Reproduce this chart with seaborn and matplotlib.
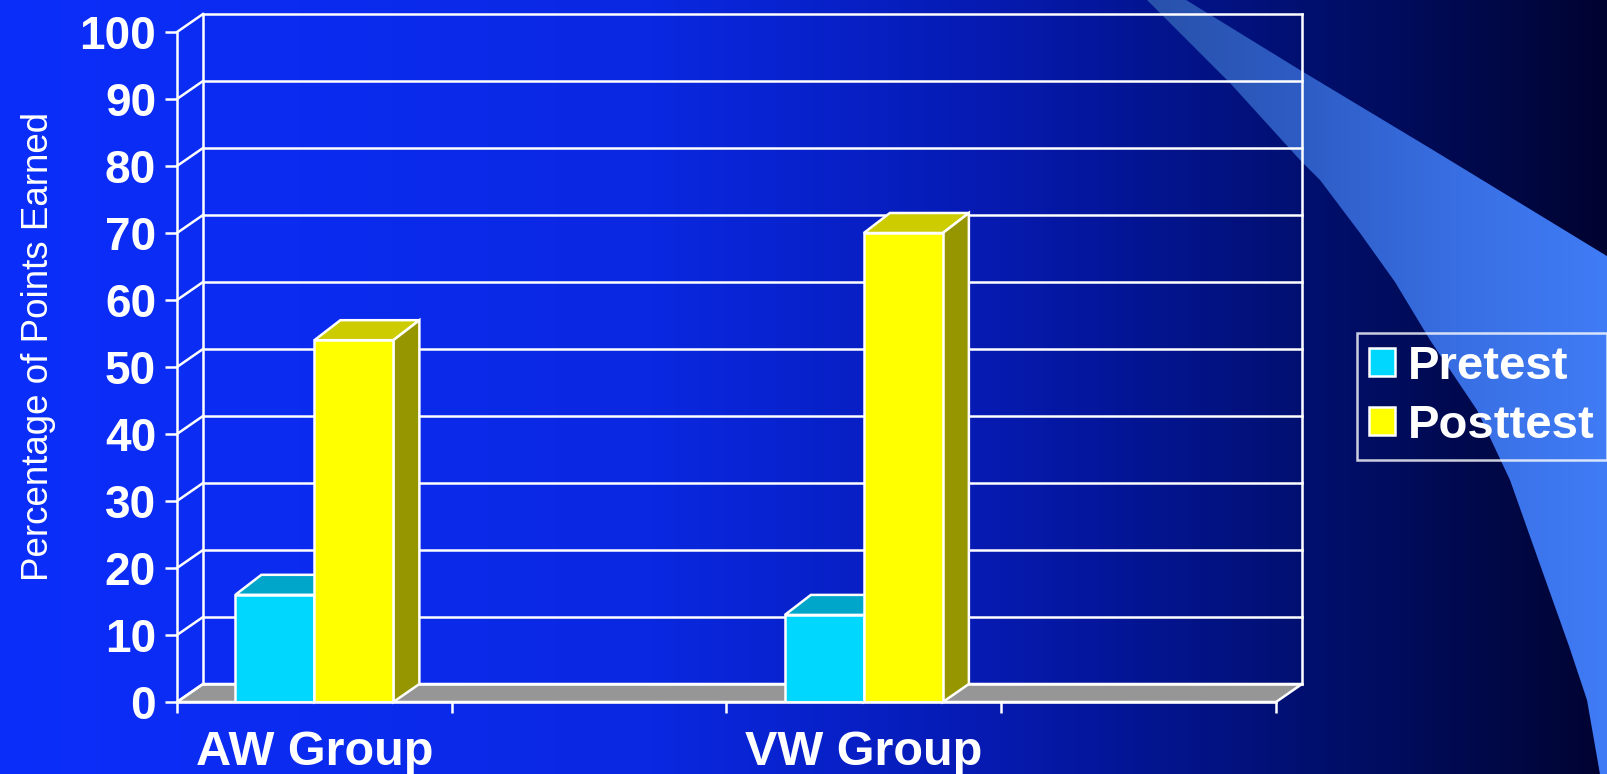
import numpy as np
import pandas as pd
import matplotlib
matplotlib.use("Agg")
import matplotlib.pyplot as plt
from matplotlib.patches import Polygon, Patch
import seaborn as sns

# ---- data -------------------------------------------------------------
groups = ["AW Group", "AW Group", "VW Group", "VW Group"]
tests = ["Pretest", "Posttest", "Pretest", "Posttest"]
scores = [16, 54, 13, 70]
category_slots = ["AW Group", " ", "VW Group", "  "]
series = ["Pretest", "Posttest"]
y_ticks = list(range(0, 101, 10))

# ---- styling ----------------------------------------------------------
front_colors = {"Pretest": "#00D7FF", "Posttest": "#FFFF00"}
top_colors = {"Pretest": "#00A6CA", "Posttest": "#CCCC00"}
side_colors = {"Pretest": "#0089A8", "Posttest": "#969600"}
floor_color = "#969696"
line_w = 1.8

plt.rcParams["font.family"] = ["Liberation Sans", "DejaVu Sans"]

W, H, DPI = 1608, 774, 100
fig = plt.figure(figsize=(W / DPI, H / DPI), dpi=DPI)

# ---- slide background: horizontal blue gradient + light swoosh --------
bg = fig.add_axes([0, 0, 1, 1], zorder=-10)
stops_x = [0, 300, 650, 800, 1000, 1100, 1200, 1300, 1400, 1500, 1608]
stops_rgb = [(12, 46, 250), (11, 43, 240), (10, 40, 225), (8, 34, 205),
             (6, 26, 175), (4, 22, 155), (3, 19, 134), (1, 16, 112),
             (0, 12, 92), (0, 8, 70), (0, 3, 48)]
xs = np.arange(W) + 0.5
grad = np.stack([np.interp(xs, stops_x, [c[i] for c in stops_rgb])
                 for i in range(3)], axis=-1) / 255.0
bg.imshow(np.repeat(grad[None, :, :], 2, axis=0), extent=(0, W, H, 0),
          aspect="auto", interpolation="bilinear")

swoosh_pts = [(1142, -5), (1230, 83), (1300, 160), (1320, 180), (1360, 233),
              (1395, 282), (1430, 340), (1477, 410), (1510, 480), (1538, 559),
              (1569, 646), (1587, 700), (1601, 780), (1620, 780), (1620, 264),
              (1433, 150), (1300, 70), (1178, -5)]
swoosh = Polygon(swoosh_pts, closed=True, facecolor="none", edgecolor="none",
                 transform=bg.transData)
bg.add_patch(swoosh)
band_x = [1100, 1300, 1450, 1608]
band_rgb = [(38, 78, 162), (46, 92, 196), (56, 110, 226), (64, 124, 246)]
bxs = np.linspace(1100, W, 300)
band = np.stack([np.interp(bxs, band_x, [c[i] for c in band_rgb])
                 for i in range(3)], axis=-1) / 255.0
im = bg.imshow(np.repeat(band[None, :, :], 2, axis=0),
               extent=(1100, W, H, 0), aspect="auto", interpolation="bilinear")
im.set_clip_path(swoosh)
bg.set_xlim(0, W)
bg.set_ylim(H, 0)
bg.axis("off")

# ---- chart ------------------------------------------------------------
ax = fig.add_axes([177 / W, 1 - 702 / H, 1099 / W, 670 / H])
ax.set_facecolor("none")

df = pd.DataFrame({"group": groups, "test": tests, "score": scores})
sns.barplot(data=df, x="group", y="score", hue="test", order=category_slots,
            hue_order=series, palette=front_colors, width=0.575,
            saturation=1, errorbar=None, edgecolor="white",
            linewidth=line_w, legend=False, ax=ax, zorder=3)

ax.set_xlim(-0.5, len(category_slots) - 0.5)
ax.set_ylim(0, 100)

# depth of the pseudo-3D box, converted from pixels to data units
bbox = ax.get_window_extent()
x_span = len(category_slots)
dx = 26 * x_span / bbox.width
dy_wall = 18 * 100 / bbox.height
dy_top = 20 * 100 / bbox.height
x_lo, x_hi = -0.5, x_span - 0.5

# floor
ax.add_patch(Polygon([(x_lo, 0), (x_hi, 0), (x_hi + dx, dy_wall), (x_lo + dx, dy_wall)],
                     closed=True, facecolor=floor_color, edgecolor="white",
                     linewidth=line_w, zorder=1.2, clip_on=False))

# back wall gridlines and side-wall slants
for v in y_ticks:
    ax.plot([x_lo + dx, x_hi + dx], [v + dy_wall, v + dy_wall], color="white",
            lw=line_w, zorder=1.5, clip_on=False, solid_capstyle="projecting")
    ax.plot([x_lo, x_lo + dx], [v, v + dy_wall], color="white",
            lw=line_w, zorder=1.5, clip_on=False)
for xb in (x_lo + dx, x_hi + dx):
    ax.plot([xb, xb], [dy_wall, 100 + dy_wall], color="white", lw=line_w,
            zorder=1.5, clip_on=False)

# top and side faces of each bar
for name, cont in zip(series, ax.containers):
    for p in cont.patches:
        h = p.get_height()
        if not np.isfinite(h):
            continue
        x0, w = p.get_x(), p.get_width()
        ax.add_patch(Polygon([(x0, h), (x0 + w, h), (x0 + w + dx, h + dy_top),
                              (x0 + dx, h + dy_top)], closed=True,
                             facecolor=top_colors[name], edgecolor="white",
                             linewidth=line_w, zorder=2.5, clip_on=False))
        ax.add_patch(Polygon([(x0 + w, 0), (x0 + w, h), (x0 + w + dx, h + dy_top),
                              (x0 + w + dx, dy_wall)], closed=True,
                             facecolor=side_colors[name], edgecolor="white",
                             linewidth=line_w, zorder=2.5, clip_on=False))

# axes lines, ticks and labels
for side in ("top", "right"):
    ax.spines[side].set_visible(False)
for side in ("left", "bottom"):
    ax.spines[side].set_color("white")
    ax.spines[side].set_linewidth(line_w)
    ax.spines[side].set_zorder(3.5)

ax.set_yticks(y_ticks)
ax.tick_params(axis="y", direction="out", length=8.6, width=line_w,
               color="white", labelcolor="white", labelsize=33, pad=6.5)
ax.set_xticks(range(len(category_slots)))
ax.set_xticklabels(category_slots)
ax.set_xticks(np.arange(-0.5, len(category_slots)), minor=True)
ax.tick_params(axis="x", which="major", length=0, labelcolor="white",
               labelsize=35, pad=20)
ax.tick_params(axis="x", which="minor", direction="out", length=7.9,
               width=line_w, color="white")
for lab in ax.get_xticklabels() + ax.get_yticklabels():
    lab.set_fontweight("bold")

ax.set_xlabel("")
ax.set_ylabel("Percentage of Points Earned", color="white", fontsize=26.5)
ax.yaxis.set_label_coords(-0.11, 0.531)

# legend
handles = [Patch(facecolor=front_colors[s], edgecolor="white",
                 linewidth=line_w, label=s) for s in series]
leg = fig.legend(handles=handles, loc="upper left",
                 bbox_to_anchor=(1357 / W, 1 - 333 / H),
                 bbox_transform=fig.transFigure, frameon=True, fancybox=False,
                 facecolor="none", edgecolor="white",
                 prop={"weight": "bold", "size": 34}, labelcolor="white",
                 handlelength=0.55, handleheight=0.55, handletextpad=0.28,
                 borderpad=0.25, labelspacing=0.32, borderaxespad=0)
leg.get_frame().set_linewidth(line_w)

fig.savefig("out.png", dpi=DPI)
